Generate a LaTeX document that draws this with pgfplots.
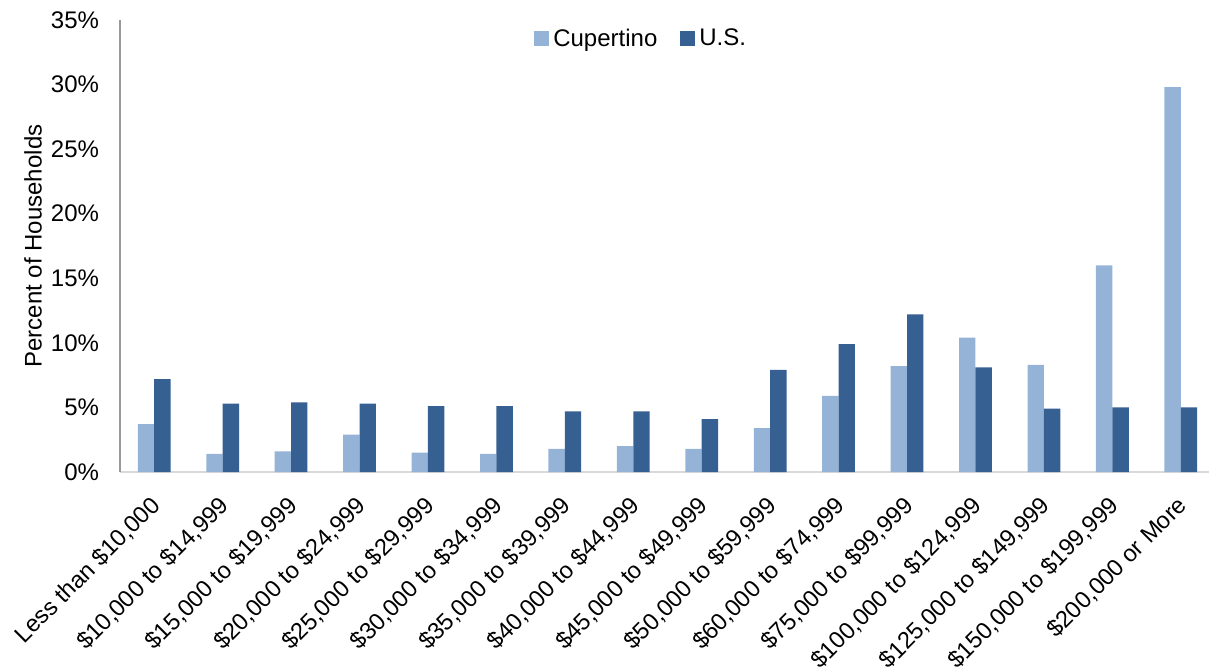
\documentclass[border=0pt]{standalone}
\usepackage{fontspec}
\setmainfont{Liberation Sans}
\usepackage{pgfplots}
\pgfplotsset{compat=1.18}
\definecolor{cup}{HTML}{95B3D7}
\definecolor{us}{HTML}{366092}

\begin{document}
\begin{tikzpicture}
\begin{axis}[
  scale only axis,
  width=547.5bp, height=226bp,
  xmin=-0.5, xmax=15.5, ymin=0, ymax=35,
  ybar=0pt, bar width=8.2bp,
  axis x line*=bottom, axis y line*=left,
  x axis line style={draw=black!15, line width=1bp},
  y axis line style={draw=black!40, line width=0.6bp},
  major tick length=0pt,
  font=\fontsize{12bp}{14bp}\selectfont,
  ytick={0,5,...,35},
  yticklabels={0\%,5\%,10\%,15\%,20\%,25\%,30\%,35\%},
  yticklabel style={xshift=-7bp},
  xtick={0,...,15},
  xticklabels={{Less than \$10,000}, {\$10,000 to \$14,999}, {\$15,000 to \$19,999},
    {\$20,000 to \$24,999}, {\$25,000 to \$29,999}, {\$30,000 to \$34,999},
    {\$35,000 to \$39,999}, {\$40,000 to \$44,999}, {\$45,000 to \$49,999},
    {\$50,000 to \$59,999}, {\$60,000 to \$74,999}, {\$75,000 to \$99,999},
    {\$100,000 to \$124,999}, {\$125,000 to \$149,999}, {\$150,000 to \$199,999},
    {\$200,000 or More}},
  xticklabel style={font=\fontsize{11.8bp}{14bp}\selectfont, inner sep=0pt,
    xshift=-2.5bp, yshift=-11bp, rotate=45, anchor=north east},
  ylabel={Percent of Households},
  ylabel style={at={(axis description cs:-0.0795,0.5)}, anchor=center},
  legend columns=2,
  legend style={draw=none, fill=none, at={(rel axis cs:0.378,0.958)}, anchor=west,
    inner sep=0pt, column sep=0pt, nodes={inner sep=0pt},
    /tikz/every odd column/.append style={column sep=2bp},
    /tikz/every even column/.append style={column sep=11.5bp}},
  legend image code/.code={\fill[#1] (0bp,-3.6bp) rectangle (7.5bp,3.9bp);},
  legend cell align=left,
]
\addplot[fill=cup, draw=none] coordinates {
  (0,3.7) (1,1.4) (2,1.6) (3,2.9) (4,1.5) (5,1.4) (6,1.8) (7,2.0)
  (8,1.8) (9,3.4) (10,5.9) (11,8.2) (12,10.4) (13,8.3) (14,16.0) (15,29.8)};
\addlegendentry{Cupertino}
\addplot[fill=us, draw=none] coordinates {
  (0,7.2) (1,5.3) (2,5.4) (3,5.3) (4,5.1) (5,5.1) (6,4.7) (7,4.7)
  (8,4.1) (9,7.9) (10,9.9) (11,12.2) (12,8.1) (13,4.9) (14,5.0) (15,5.0)};
\addlegendentry{U.S.}
\end{axis}
\pgfresetboundingbox
\path (-60bp,-98.5bp) rectangle (544.5bp,236bp);
\end{tikzpicture}
\end{document}
